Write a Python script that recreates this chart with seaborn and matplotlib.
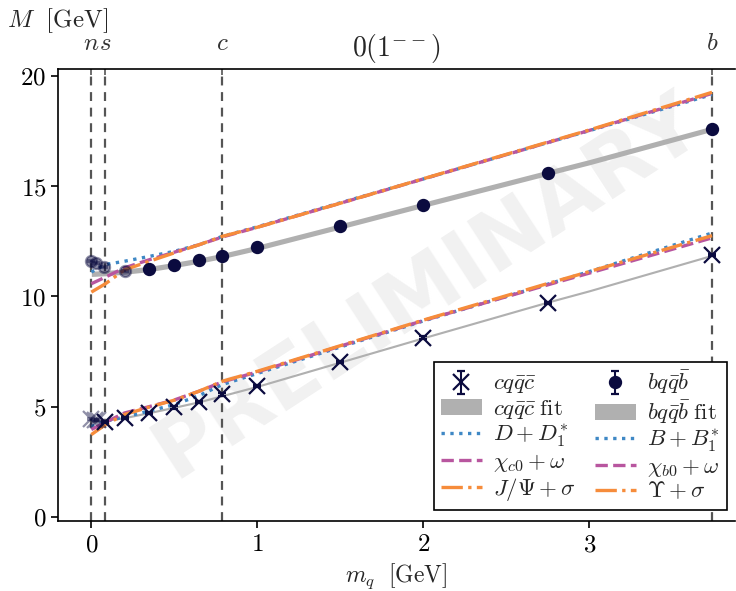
import numpy as np
import pandas as pd
import matplotlib
matplotlib.use("Agg")
import matplotlib.pyplot as plt
import seaborn as sns

# lattice points, c and b sectors (faded = light quark region)
cqqc_mq = [0.0, 0.02, 0.04, 0.085, 0.2, 0.35, 0.5, 0.65, 0.79, 1.0, 1.5, 2.0, 2.75, 3.74]
cqqc_M = [4.42, 4.40, 4.38, 4.31, 4.49, 4.72, 4.96, 5.22, 5.55, 5.93, 7.03, 8.13, 9.70, 11.86]
cqqc_err = [0.05] * 14
cqqc_faded = [True, True, True, False, False, False, False, False, False, False, False, False, False, False]

bqqb_mq = [0.0, 0.03, 0.075, 0.2, 0.35, 0.5, 0.65, 0.79, 1.0, 1.5, 2.0, 2.75, 3.74]
bqqb_M = [11.60, 11.50, 11.33, 11.15, 11.22, 11.42, 11.63, 11.82, 12.24, 13.17, 14.15, 15.58, 17.59]
bqqb_err = [0.05] * 13
bqqb_faded = [True, True, True, True, False, False, False, False, False, False, False, False, False]

# fit bands and two-meson thresholds
curve_mq = [0.0, 0.085, 0.2, 0.35, 0.5, 0.65, 0.79, 1.0, 1.5, 2.0, 2.75, 3.0, 3.74]
cqqc_fit = [4.33, 4.38, 4.50, 4.73, 4.97, 5.22, 5.50, 5.92, 7.02, 8.12, 9.74, 10.25, 11.86]
bqqb_fit = [11.02, 11.05, 11.12, 11.24, 11.42, 11.62, 11.83, 12.20, 13.17, 14.15, 15.60, 16.08, 17.60]
cqqc_fit_width = 0.05
bqqb_fit_width = 0.12

dd_thr = [4.10, 4.33, 4.53, 4.80, 5.09, 5.50, 6.00, 6.50, 7.70, 8.88, 10.55, 11.12, 12.87]
chic_thr = [3.96, 4.29, 4.71, 5.00, 5.30, 5.70, 6.12, 6.57, 7.74, 8.90, 10.52, 11.05, 12.65]
jpsi_thr = [3.73, 4.18, 4.64, 4.98, 5.29, 5.70, 6.15, 6.60, 7.76, 8.92, 10.58, 11.12, 12.75]
bb_thr = [11.10, 11.44, 11.59, 11.81, 12.04, 12.34, 12.72, 13.15, 14.24, 15.32, 16.97, 17.51, 19.15]
chib_thr = [10.57, 10.87, 11.29, 11.66, 12.00, 12.34, 12.69, 13.13, 14.22, 15.32, 16.97, 17.52, 19.20]
ups_thr = [10.19, 10.57, 11.20, 11.59, 11.97, 12.34, 12.72, 13.13, 14.22, 15.33, 16.99, 17.54, 19.25]

quark_masses = [0.0, 0.085, 0.79, 3.74]
quark_labels = ["$n$", "$s$", "$c$", "$b$"]
x_ticks = [0, 1, 2, 3]
y_ticks = [0, 5, 10, 15, 20]

sns.set_style("ticks")
plt.rcParams["font.family"] = ["DejaVu Serif"]
plt.rcParams["mathtext.fontset"] = "cm"

navy = "#0b0b3f"
blue = "#3f88c5"
purple = "#b8569f"
orange = "#f68c3b"
grey = "#b0b0b0"

fig = plt.figure(figsize=(7.36, 5.91), dpi=100)
ax = fig.add_axes([0.079, 0.118, 0.92, 0.765])

ax.text(0.545, 0.52, "PRELIMINARY", transform=ax.transAxes, rotation=33,
        fontsize=60, fontweight="bold", family="DejaVu Sans", color="#f1f1f1",
        ha="center", va="center", zorder=0)

for m in quark_masses:
    ax.axvline(m, color="#555555", lw=1.6, ls=(0, (4, 3)), zorder=1)

curves = pd.DataFrame({"mq": curve_mq})
h = {}
h["cfit"] = ax.fill_between(curve_mq, np.array(cqqc_fit) - cqqc_fit_width,
                            np.array(cqqc_fit) + cqqc_fit_width, color=grey, lw=0,
                            label=r"$cq\bar{q}\bar{c}\ \mathrm{fit}$", zorder=2)
h["bfit"] = ax.fill_between(curve_mq, np.array(bqqb_fit) - bqqb_fit_width,
                            np.array(bqqb_fit) + bqqb_fit_width, color=grey, lw=0,
                            label=r"$bq\bar{q}\bar{b}\ \mathrm{fit}$", zorder=2)

line_specs = [
    ("dd", dd_thr, blue, ":", r"$D + D_1^{*}$"),
    ("chic", chic_thr, purple, "--", r"$\chi_{c0} + \omega$"),
    ("jpsi", jpsi_thr, orange, "-.", r"$J/\Psi + \sigma$"),
    ("bb", bb_thr, blue, ":", r"$B + B_1^{*}$"),
    ("chib", chib_thr, purple, "--", r"$\chi_{b0} + \omega$"),
    ("ups", ups_thr, orange, "-.", r"$\Upsilon + \sigma$"),
]
for key, vals, col, ls, lab in line_specs:
    curves[key] = vals
    sns.lineplot(data=curves, x="mq", y=key, ax=ax, color=col, linestyle=ls,
                 lw=2.4, zorder=3)
    h[key] = ax.lines[-1]
    h[key].set_label(lab)


def draw_points(mq, M, err, faded, fmt, ms, lab):
    mq, M, err, faded = map(np.array, (mq, M, err, faded))
    ax.errorbar(mq[faded], M[faded], yerr=err[faded], fmt=fmt, ms=ms, mew=1.6,
                color=navy, ecolor=navy, capsize=3, alpha=0.45, zorder=4)
    return ax.errorbar(mq[~faded], M[~faded], yerr=err[~faded], fmt=fmt, ms=ms,
                       mew=1.6, color=navy, ecolor=navy, capsize=3, zorder=5, label=lab)


h["c"] = draw_points(cqqc_mq, cqqc_M, cqqc_err, cqqc_faded, "x", 11, r"$cq\bar{q}\bar{c}$")
h["b"] = draw_points(bqqb_mq, bqqb_M, bqqb_err, bqqb_faded, "o", 8, r"$bq\bar{q}\bar{b}$")

ax.set_xlim(-0.2, 3.88)
ax.set_ylim(-0.2, 20.3)
ax.set_xticks(x_ticks, labels=[f"${t}$" for t in x_ticks])
ax.set_yticks(y_ticks, labels=[f"${t}$" for t in y_ticks])
ax.tick_params(labelsize=18, length=5, width=1.2, colors="black")
for s in ["left", "bottom", "top"]:
    ax.spines[s].set_linewidth(1.2)
    ax.spines[s].set_color("black")
ax.spines["right"].set_visible(False)

top = ax.secondary_xaxis("top")
top.set_xticks(quark_masses, labels=quark_labels)
top.tick_params(direction="in", length=4, width=1.2, labelsize=18, colors="#555555",
                labelcolor="#333333", pad=10)
top.spines["top"].set_visible(False)

ax.set_title(r"$0(1^{--})$", fontsize=20, y=1.028, pad=0)
ax.set_ylabel("")
ax.set_xlabel(r"$m_q\ \ \mathrm{[GeV]}$", fontsize=17, labelpad=4)
fig.text(0.01, 0.965, r"$M\ \ \mathrm{[GeV]}$", fontsize=18, ha="left", va="center")

order = ["c", "cfit", "dd", "chic", "jpsi", "b", "bfit", "bb", "chib", "ups"]
leg = ax.legend([h[k] for k in order], [h[k].get_label() for k in order], ncol=2,
                loc="lower right", bbox_to_anchor=(1.004, 0.0), fontsize=16.5,
                frameon=True, fancybox=False, framealpha=1, edgecolor="black",
                handlelength=1.8, handletextpad=0.5, columnspacing=0.8,
                borderpad=0.3, labelspacing=0.08)
leg.get_frame().set_linewidth(1.2)
leg.set_zorder(10)

fig.savefig("out.png", dpi=100)
